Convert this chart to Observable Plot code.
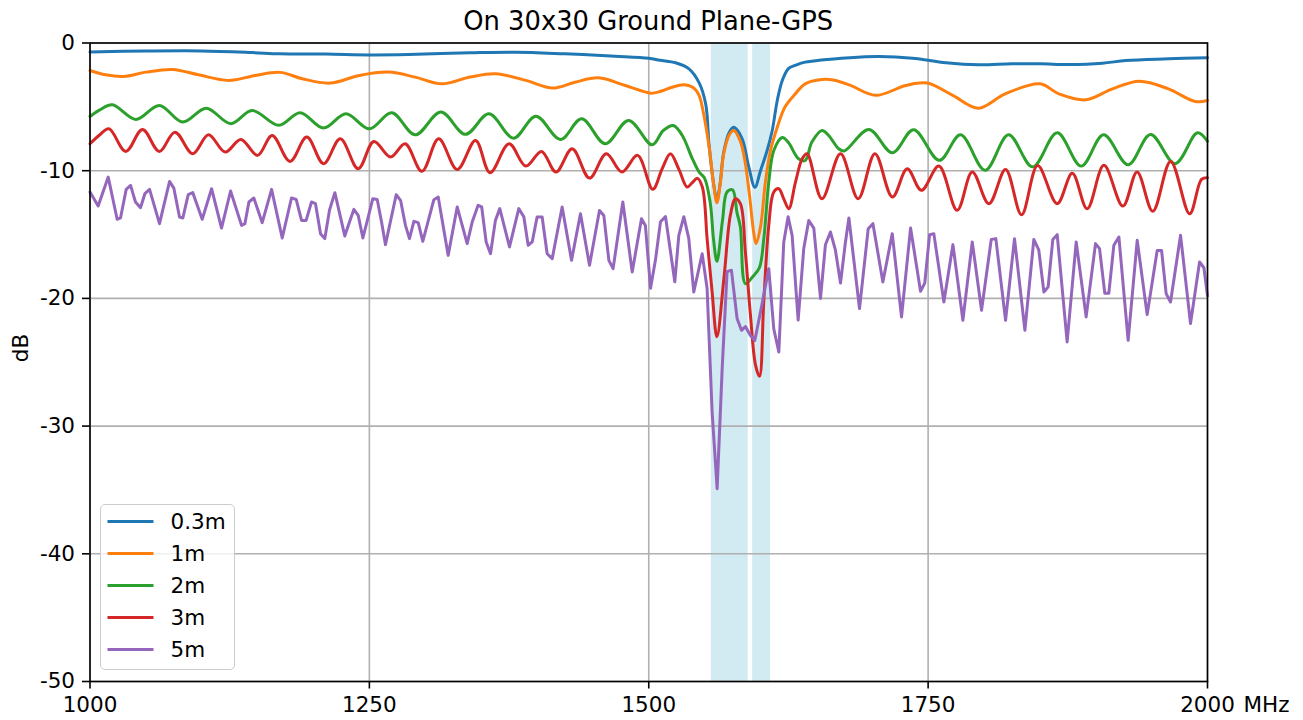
<!DOCTYPE html>
<html><head><meta charset="utf-8">
<script src="https://cdn.jsdelivr.net/npm/d3@7"></script>
<script src="https://cdn.jsdelivr.net/npm/@observablehq/plot@0.6"></script>
<style>
body{margin:0;background:#fff;font-family:"DejaVu Sans",sans-serif;}
#wrap{position:relative;width:1303px;height:720px;overflow:hidden;}
#title{box-sizing:border-box;height:36px;padding-top:6px;line-height:30px;margin-left:89.5px;width:1117.5px;text-align:center;font-size:25.8px;color:#000;white-space:nowrap;}
#chart svg{overflow:visible;display:block;}
#legend{position:absolute;left:100px;top:504px;width:135px;height:166px;box-sizing:border-box;border:1.5px solid #cccccc;border-radius:5px;background:rgba(255,255,255,0.8);}
</style></head><body>
<div id="wrap"><div id="title">On 30x30 Ground Plane-GPS</div><div id="chart"></div><div id="legend"></div></div>
<script>
// ---- data ----
const names = ["0.3m", "1m", "2m", "3m", "5m"];
const colors = ["#1f77b4", "#ff7f0e", "#2ca02c", "#d62728", "#9467bd"];
const xTicks = [1000, 1250, 1500, 1750, 2000];
const yTicks = [0, -10, -20, -30, -40, -50];
const bandStart = [1556, 1593];
const bandEnd = [1589, 1609];

const s03 = [[1000,-0.7],[1050,-0.63],[1100,-0.62],[1145,-0.75],[1170,-0.85],[1211,-0.87],[1250,-0.93],[1285,-0.9],[1340,-0.77],[1381,-0.72],[1425,-0.85],[1470,-1.03],[1500,-1.19],[1510,-1.35],[1524,-1.55],[1536,-2.02],[1545,-3.1],[1551,-4.8],[1554,-8.0],[1558,-11.0],[1561,-12.3],[1564,-10.9],[1567,-8.6],[1572,-7.0],[1576,-6.6],[1578,-6.7],[1584,-7.6],[1589.5,-9.7],[1595,-11.3],[1600,-10.0],[1606,-8.4],[1610.5,-6.85],[1615,-4.5],[1619.5,-2.93],[1625,-2.0],[1631,-1.76],[1640,-1.5],[1680,-1.15],[1706,-1.06],[1736,-1.19],[1766,-1.55],[1795,-1.71],[1825,-1.63],[1851,-1.63],[1876,-1.68],[1906,-1.58],[1927,-1.37],[1965,-1.24],[2000,-1.15]];

const s1 = [[1000,-2.15],[1014,-2.49],[1030,-2.62],[1050,-2.28],[1074,-2.07],[1097,-2.49],[1124,-2.93],[1148,-2.54],[1170,-2.3],[1190,-2.8],[1215,-3.14],[1241,-2.54],[1267,-2.28],[1291,-2.67],[1315,-3.2],[1340,-2.67],[1363,-2.41],[1390,-2.93],[1414,-3.53],[1434,-3.07],[1455,-2.73],[1479,-3.33],[1502,-3.93],[1510,-3.8],[1521,-3.46],[1531,-3.27],[1540,-3.5],[1545,-4.1],[1549,-5.5],[1554,-8.15],[1558,-11.0],[1561,-12.5],[1564,-11.0],[1567,-8.7],[1572,-7.2],[1576,-6.85],[1582,-7.7],[1586,-9.2],[1590,-11.8],[1594,-14.9],[1596,-15.7],[1600,-14.4],[1604.5,-10.8],[1609,-8.4],[1615,-6.6],[1622,-5.0],[1631,-4.0],[1640,-3.2],[1655,-2.86],[1665,-2.9],[1680,-3.3],[1703,-4.1],[1730,-3.33],[1749,-3.14],[1772,-4.1],[1795,-5.1],[1819,-3.98],[1850,-3.2],[1867,-3.98],[1891,-4.45],[1915,-3.59],[1939,-2.99],[1965,-3.59],[1989,-4.58],[2000,-4.5]];

const s2 = [[1000,-5.75],[1008,-5.28],[1020,-4.84],[1041,-5.99],[1062,-4.89],[1083,-6.19],[1104,-5.1],[1126,-6.32],[1145,-5.28],[1169,-6.45],[1188,-5.46],[1209,-6.66],[1229,-5.54],[1250,-6.72],[1270,-5.46],[1291,-7.19],[1314,-5.41],[1336,-7.15],[1357,-5.54],[1379,-7.45],[1399,-5.73],[1421,-7.55],[1440,-5.93],[1461,-7.89],[1482,-6.06],[1503,-7.97],[1513,-6.85],[1522,-6.46],[1530,-7.24],[1539,-9.06],[1545,-10.1],[1550,-10.6],[1555,-12.5],[1558,-15.4],[1561,-17.1],[1566,-13.9],[1570,-11.67],[1575,-11.5],[1579,-13.3],[1582,-14.4],[1586.5,-18.85],[1593,-18.3],[1599,-17.6],[1603,-15.3],[1607.5,-10.8],[1612,-8.4],[1619.5,-7.4],[1625,-7.8],[1634,-9.06],[1640,-9.2],[1646,-7.76],[1655,-6.85],[1661,-7.24],[1670,-8.28],[1675,-8.45],[1697,-6.77],[1718,-8.59],[1737,-6.79],[1760,-9.19],[1779,-7.19],[1801,-9.97],[1822,-7.19],[1843.5,-9.7],[1865.5,-7.03],[1887,-9.64],[1907,-7.19],[1929,-9.53],[1949,-7.16],[1971,-9.45],[1991,-7.03],[2000,-7.7]];

const s3 = [[1000,-7.89],[1008,-7.24],[1017,-6.72],[1032,-8.49],[1047,-6.77],[1062,-8.49],[1076,-6.98],[1092,-8.67],[1106,-7.19],[1121,-8.54],[1135,-7.55],[1150,-8.8],[1163,-7.24],[1179,-9.27],[1194,-7.37],[1209,-9.45],[1224,-7.5],[1240,-9.85],[1254,-7.71],[1269,-8.93],[1282,-7.89],[1297,-10.05],[1312,-7.5],[1328.6,-9.9],[1345,-7.63],[1358,-10.16],[1375,-7.89],[1390,-9.64],[1404,-8.49],[1417,-10.1],[1431.5,-8.28],[1447,-10.58],[1462,-8.67],[1476,-10.1],[1490,-8.8],[1503.6,-11.46],[1512,-9.85],[1519.4,-8.67],[1527,-9.9],[1534.3,-11.28],[1538.8,-10.95],[1543.5,-10.6],[1548,-11.3],[1552.3,-15.4],[1556.7,-19.5],[1561,-23.0],[1567.2,-18.5],[1573.1,-13.45],[1577.6,-12.2],[1582.1,-12.6],[1586.5,-16.4],[1591,-21.3],[1595.5,-25.2],[1599.1,-26.1],[1602.9,-20.3],[1607.4,-14.28],[1611.9,-11.67],[1616.4,-11.41],[1620.8,-12.2],[1625.3,-12.98],[1631.3,-10.9],[1637.3,-9.06],[1641.7,-8.67],[1655,-12.2],[1671.6,-8.67],[1687.4,-12.19],[1702.4,-8.67],[1718,-12.06],[1731.3,-9.85],[1744,-11.54],[1759.6,-9.64],[1776,-13.1],[1789.5,-10.1],[1804.4,-12.58],[1819.3,-9.9],[1833.6,-13.45],[1848,-9.6],[1865.5,-12.58],[1879,-10.2],[1892.3,-12.98],[1907.3,-9.58],[1924.3,-12.77],[1937,-10.1],[1951,-13.18],[1967,-9.27],[1984,-13.37],[1994.6,-10.68],[2000,-10.55]];

const s5 = [[1000,-11.67],[1007.3,-12.77],[1016.3,-10.5],[1024.3,-13.8],[1027.3,-13.7],[1032.4,-11.46],[1036.3,-11.15],[1040.7,-12.45],[1045.2,-12.9],[1049.1,-11.8],[1053.3,-11.46],[1062.2,-14.15],[1071.2,-10.84],[1075,-11.36],[1080.1,-13.63],[1083.1,-13.7],[1087.9,-11.88],[1092,-11.72],[1100.4,-13.81],[1108.8,-11.41],[1117.7,-14.49],[1125.8,-11.59],[1135.6,-14.28],[1138.6,-14.15],[1142.2,-12.45],[1146.6,-12.14],[1154.1,-14.07],[1162.5,-11.46],[1172,-15.27],[1180.3,-12.14],[1184.5,-12.25],[1189.3,-13.89],[1193.4,-13.89],[1198.2,-12.45],[1201.8,-12.58],[1206.3,-14.93],[1210.1,-15.32],[1214.3,-13.1],[1219.1,-11.72],[1228,-15.11],[1232.2,-14.02],[1236.1,-13.03],[1240,-13.5],[1244.2,-15.27],[1253.1,-12.19],[1257,-12.25],[1260.9,-14.02],[1264.4,-15.79],[1274,-11.88],[1277.9,-12.32],[1282.3,-14.28],[1285.9,-15.32],[1289.8,-13.97],[1293.7,-14.07],[1297.8,-15.53],[1307.7,-12.27],[1311.6,-12.06],[1320.5,-16.63],[1328.6,-12.84],[1337.5,-15.71],[1342,-14.02],[1347.3,-12.71],[1350.5,-12.84],[1354.5,-15.58],[1358.4,-16.5],[1362.8,-13.89],[1366.7,-12.97],[1375.4,-15.97],[1383.7,-12.97],[1388.2,-13.6],[1392.1,-15.84],[1395.7,-15.58],[1400.1,-13.63],[1404.6,-13.63],[1409.1,-16.5],[1413.6,-16.89],[1422.5,-12.84],[1430.9,-17.02],[1438.9,-13.37],[1447,-17.41],[1455.9,-13.11],[1459.8,-13.5],[1464.3,-17.02],[1468.1,-17.67],[1476.8,-12.45],[1485.2,-17.93],[1493.5,-13.76],[1497,-14.3],[1501.6,-19.2],[1506,-17.0],[1510.5,-14.0],[1515,-13.6],[1523.3,-18.7],[1526.9,-15.06],[1531.4,-13.6],[1535.8,-15.3],[1540.3,-19.5],[1547.8,-16.5],[1552.2,-19.2],[1556.7,-28.9],[1561.2,-34.9],[1565.7,-25.5],[1570.1,-17.9],[1574,-17.8],[1579.1,-21.6],[1583,-22.5],[1586.5,-22.2],[1591,-22.9],[1594.9,-23.3],[1600,-21.06],[1607.4,-17.67],[1611.9,-22.4],[1616.4,-24.2],[1620.8,-15.6],[1624.7,-13.6],[1628.3,-15.06],[1633.7,-21.7],[1638.7,-16.1],[1643.2,-13.9],[1647.7,-14.5],[1653.7,-20.0],[1658.1,-15.8],[1662.6,-14.8],[1667,-16.2],[1671.6,-18.8],[1676,-15.6],[1679.1,-13.7],[1688.6,-20.8],[1696.4,-14.54],[1700.6,-14.15],[1709.5,-18.71],[1717.9,-14.93],[1726.2,-21.45],[1734.3,-14.49],[1743.2,-19.44],[1747,-18.8],[1751.3,-15.01],[1755.1,-14.93],[1764.1,-20.28],[1772.2,-15.79],[1781.1,-21.71],[1789.5,-15.58],[1797.8,-20.93],[1806.5,-15.38],[1810.6,-15.32],[1819.3,-21.71],[1827.3,-15.32],[1836.6,-22.5],[1844.6,-15.38],[1849,-16.2],[1853.6,-19.5],[1857.4,-19.1],[1861.6,-15.38],[1865.5,-15.01],[1874.4,-23.41],[1882.5,-15.58],[1891.4,-21.45],[1899.8,-15.71],[1903.4,-16.1],[1908.1,-19.6],[1911.7,-19.6],[1916.2,-15.84],[1920.7,-15.19],[1929,-23.28],[1937.1,-15.45],[1946,-21.27],[1955,-16.24],[1958.9,-16.24],[1963,-19.63],[1966.9,-20.28],[1975.9,-15.06],[1984.8,-21.97],[1992.9,-17.15],[1996.8,-17.6],[2000,-19.8]];

// ---- build ----
const seriesData = [s03, s1, s2, s3, s5];
const curves = ["catmull-rom", "catmull-rom", "catmull-rom", "catmull-rom", "linear"];
const bands = bandStart.map((b, i) => ({x1: b, x2: bandEnd[i]}));
const FS = 21.5;

const lineMarks = seriesData.map((s, i) => Plot.line(s.map(([f, db]) => ({f, db, name: names[i]})), {
  x: "f", y: "db", stroke: colors[i], strokeWidth: 3, curve: curves[i], strokeLinejoin: "round"
}));

const chart = Plot.plot({
  width: 1303, height: 684,
  marginLeft: 89.5, marginRight: 96, marginTop: 6.5, marginBottom: 39,
  style: {fontFamily: "DejaVu Sans", fontSize: FS + "px", background: "white", color: "black", overflow: "visible"},
  x: {domain: [1000, 2000]},
  y: {domain: [-50, 0]},
  marks: [
    Plot.rect(bands, {x1: "x1", x2: "x2", fill: "#add8e6", fillOpacity: 0.55}),
    Plot.gridX(xTicks, {stroke: "#b0b0b0", strokeOpacity: 1, strokeWidth: 1.6}),
    Plot.gridY(yTicks, {stroke: "#b0b0b0", strokeOpacity: 1, strokeWidth: 1.6}),
    ...lineMarks,
    Plot.frame({stroke: "black", strokeWidth: 1.6}),
    Plot.axisX(xTicks, {tickSize: 7.5, tickPadding: 7.5, fontSize: FS, tickFormat: d => String(d), label: null, strokeWidth: 1.6}),
    Plot.axisY(yTicks, {tickSize: 7.5, tickPadding: 7.5, fontSize: FS, tickFormat: d => String(d), label: null, strokeWidth: 1.6}),
    Plot.text(["dB"], {frameAnchor: "left", rotate: -90, dx: -69, fontSize: FS}),
    Plot.text(["MHz"], {frameAnchor: "bottom-right", textAnchor: "start", lineAnchor: "top", dx: 36, dy: 15, fontSize: FS})
  ]
});
document.getElementById("chart").appendChild(chart);

// legend
const leg = d3.select("#legend").append("svg").attr("width", 132).attr("height", 163)
  .style("font-family", "DejaVu Sans").style("font-size", FS + "px");
names.forEach((n, i) => {
  const y = 16.5 + i * 32;
  leg.append("line").attr("x1", 6.5).attr("x2", 52.5).attr("y1", y).attr("y2", y)
    .attr("stroke", colors[i]).attr("stroke-width", 3);
  leg.append("text").attr("x", 69.5).attr("y", y).attr("dy", "0.36em").attr("fill", "black").text(n);
});
</script>
</body></html>
